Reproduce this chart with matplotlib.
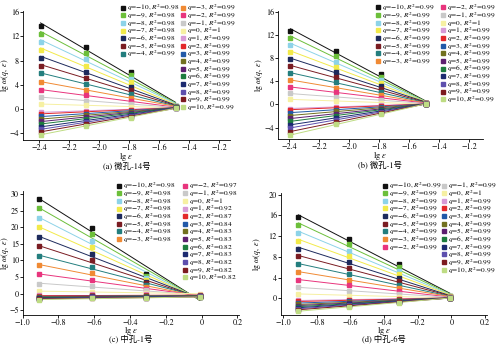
import numpy as np
import matplotlib
matplotlib.use("Agg")
import matplotlib.pyplot as plt
from matplotlib.lines import Line2D
from matplotlib.ticker import FuncFormatter

plt.rcParams['font.family'] = ['STIXGeneral']
plt.rcParams['mathtext.fontset'] = 'stix'
plt.rcParams['axes.unicode_minus'] = True

q_values = list(range(-10, 11))
colors = ['#111111', '#6cbf3a', '#8dd3e8', '#f2ea4a', '#1d2a5c', '#7a1c22',
          '#237e7e', '#f08a34', '#e8357d', '#c9c9c9', '#f6f0a2', '#d79ad6',
          '#e3282b', '#2159a8', '#71701f', '#5d1f70', '#1e7c3e', '#1c2a70',
          '#5d4fad', '#7c1b1f', '#bedc83']

x_micro = [-2.39, -2.09, -1.79, -1.49]
x_meso = [-0.91, -0.61, -0.31, -0.01]

# lg u(q, eps), rows q=-10..10, columns = box sizes
pts_a = [
    [13.7, 10.3, 6.2, 0.5], [12.4, 9.2, 5.6, 0.5], [11.1, 8.2, 5.0, 0.5],
    [9.8, 7.2, 4.4, 0.4], [8.5, 6.2, 3.7, 0.4], [7.2, 5.2, 3.1, 0.4],
    [5.9, 4.2, 2.5, 0.4], [4.5, 3.2, 1.9, 0.4], [3.2, 2.3, 1.3, 0.3],
    [2.0, 1.4, 0.8, 0.3], [0.9, 0.6, 0.3, 0.3], [-0.5, -0.3, -0.1, 0.3],
    [-0.75, -0.45, -0.2, 0.3], [-1.2, -0.75, -0.35, 0.3], [-1.6, -1.05, -0.5, 0.3],
    [-2.0, -1.35, -0.65, 0.3], [-2.4, -1.6, -0.8, 0.3], [-2.9, -1.9, -0.95, 0.25],
    [-3.3, -2.2, -1.1, 0.25], [-3.7, -2.5, -1.25, 0.2], [-4.2, -2.8, -1.4, 0.2]]
pts_b = [
    [12.7, 9.2, 5.2, 0.2], [11.5, 8.3, 4.7, 0.2], [10.3, 7.4, 4.2, 0.2],
    [9.0, 6.5, 3.7, 0.2], [7.8, 5.6, 3.2, 0.2], [6.6, 4.7, 2.7, 0.2],
    [5.4, 3.8, 2.2, 0.2], [4.2, 2.9, 1.7, 0.2], [3.0, 2.1, 1.2, 0.2],
    [1.9, 1.3, 0.7, 0.2], [0.9, 0.6, 0.3, 0.1], [-0.7, -0.4, -0.15, 0.1],
    [-0.9, -0.55, -0.25, 0.1], [-1.4, -0.9, -0.4, 0.1], [-1.9, -1.2, -0.6, 0.1],
    [-2.4, -1.6, -0.8, 0.1], [-2.9, -1.9, -0.95, 0.1], [-3.5, -2.3, -1.15, 0.1],
    [-4.0, -2.7, -1.3, 0.1], [-4.7, -3.0, -1.5, 0.1], [-5.3, -3.4, -1.7, 0.1]]
pts_c = [
    [28.5, 19.9, 5.9, -0.9], [25.7, 18.0, 5.3, -0.9], [22.8, 16.0, 4.7, -0.9],
    [20.0, 14.0, 4.1, -0.8], [17.1, 12.0, 3.6, -0.8], [14.3, 10.0, 3.1, -0.8],
    [11.4, 8.1, 2.6, -0.7], [8.6, 6.1, 2.0, -0.7], [5.8, 4.1, 1.5, -0.6],
    [3.0, 2.2, 1.0, -0.5], [0.8, 0.5, 0.3, 0.0], [-0.4, -0.2, -0.2, -0.4],
    [-0.7, -0.4, -0.4, -0.5], [-0.9, -0.6, -0.6, -0.6], [-1.0, -0.7, -0.7, -0.6],
    [-1.2, -0.8, -0.9, -0.7], [-1.3, -0.9, -1.0, -0.7], [-1.4, -1.0, -1.1, -0.8],
    [-1.5, -1.1, -1.2, -0.8], [-1.6, -1.2, -1.3, -0.9], [-1.8, -1.3, -1.4, -0.9]]
pts_d = [
    [15.6, 11.5, 6.7, 0.4], [14.1, 10.4, 6.0, 0.4], [12.6, 9.2, 5.3, 0.4],
    [11.1, 8.1, 4.6, 0.4], [9.6, 7.0, 3.9, 0.3], [8.1, 5.8, 3.3, 0.3],
    [6.6, 4.7, 2.6, 0.3], [5.1, 3.6, 2.0, 0.3], [3.6, 2.5, 1.4, 0.2],
    [2.1, 1.5, 0.8, 0.2], [0.9, 0.5, 0.3, 0.1], [-0.4, -0.3, -0.1, 0.1],
    [-0.6, -0.4, -0.2, 0.1], [-0.9, -0.6, -0.3, 0.1], [-1.2, -0.75, -0.4, 0.1],
    [-1.4, -0.9, -0.5, 0.1], [-1.6, -1.05, -0.6, 0.1], [-1.8, -1.2, -0.65, 0.1],
    [-2.0, -1.3, -0.75, 0.1], [-2.2, -1.45, -0.8, 0.1], [-2.5, -1.6, -0.9, 0.1]]

r2_a = ["0.98", "0.98", "0.98", "0.98", "0.98", "0.98", "0.99", "0.99", "0.99", "0.99", "1",
        "0.99", "0.99", "0.99", "0.99", "0.99", "0.99", "0.99", "0.99", "0.99", "0.99"]
r2_b = ["0.99"] * 10 + ["1"] + ["0.99"] * 10
r2_c = ["0.98", "0.98", "0.98", "0.98", "0.98", "0.98", "0.98", "0.98", "0.97", "0.98", "1",
        "0.92", "0.87", "0.84", "0.83", "0.83", "0.82", "0.83", "0.82", "0.82", "0.82"]
r2_d = ["0.99"] * 10 + ["1"] + ["0.99"] * 10

captions = ["(a) 微孔-14号", "(b) 微孔-1号", "(c) 中孔-1号", "(d) 中孔-6号"]

W, H = 500, 346


def px_rect(left, right, top, bottom):
    return [left / W, 1 - bottom / H, (right - left) / W, (bottom - top) / H]


def xfmt(v, pos):
    if abs(v) < 1e-9:
        return "0"
    return f"{v:.1f}".replace("-", "\u2212")


def yfmt(v, pos):
    return f"{int(round(v))}".replace("-", "\u2212")


def draw_panel(ax, x, pts, r2, split, xlim, ylim, xticks, yticks, caption, leg_x, leg_y, ylab_x):
    x = np.array(x)
    for q, c, y in zip(q_values, colors, pts):
        k, b = np.polyfit(x, y, 1)
        ax.plot([x[0], x[-1]], [k * x[0] + b, k * x[-1] + b], color=c, lw=0.7, zorder=2)
    for q, c, y in zip(q_values, colors, pts):
        ax.plot(x, y, ls="none", marker="s", ms=3, color=c, zorder=3)
    ax.set_xlim(*xlim)
    ax.set_ylim(*ylim)
    ax.set_xticks(xticks)
    ax.set_yticks(yticks)
    ax.xaxis.set_major_formatter(FuncFormatter(xfmt))
    ax.yaxis.set_major_formatter(FuncFormatter(yfmt))
    for s in ["top", "right"]:
        ax.spines[s].set_visible(False)
    for s in ["left", "bottom"]:
        ax.spines[s].set_linewidth(0.6)
    ax.tick_params(direction="out", length=2, width=0.6, labelsize=5.8, pad=0.8)
    ax.set_ylabel(r"lg $\omega(q,\ \varepsilon)$", fontsize=5.8)
    ax.yaxis.set_label_coords(ylab_x, 0.5)
    ax.text(0.5, -0.13, r"lg $\varepsilon$", transform=ax.transAxes, ha="center", va="center",
            fontsize=6)
    ax.text(0.5, -0.2, caption, transform=ax.transAxes, ha="center", va="center", fontsize=6,
            family=["STIXGeneral", "Noto Sans CJK SC"])

    handles = []
    labels = []
    for q, c, r in zip(q_values, colors, r2):
        handles.append(Line2D([], [], ls="none", marker="s", ms=3, color=c))
        labels.append(f"$q$={q}, $R^2$={r}".replace("-", "\u2212"))
    kw = dict(loc="upper left", frameon=False, fontsize=5.3, borderpad=0, borderaxespad=0,
              handlelength=0.6, handletextpad=0.3, labelspacing=-0.40)
    leg1 = ax.legend(handles[:split], labels[:split], bbox_to_anchor=(leg_x[0], leg_y), **kw)
    ax.add_artist(leg1)
    ax.legend(handles[split:], labels[split:], bbox_to_anchor=(leg_x[1], leg_y), **kw)


fig = plt.figure(figsize=(5, 3.46), dpi=100)

ax_a = fig.add_axes(px_rect(23, 230, 11, 140))
draw_panel(ax_a, x_micro, pts_a, r2_a, 7, (-2.507, -1.127), (-5.1, 16.2),
           np.arange(-2.4, -1.19, 0.2), np.arange(-4, 17, 4), captions[0],
           (0.471, 0.761), 1.064, -0.058)

ax_b = fig.add_axes(px_rect(278, 483, 10.5, 139.3))
draw_panel(ax_b, x_micro, pts_b, r2_b, 8, (-2.473, -1.109), (-6.0, 16.2),
           np.arange(-2.4, -1.19, 0.2), np.arange(-4, 17, 4), captions[1],
           (0.476, 0.793), 1.061, -0.062)

ax_c = fig.add_axes(px_rect(22.7, 239, 191, 314.7))
draw_panel(ax_c, x_meso, pts_c, r2_c, 8, (-0.994, 0.209), (-6.3, 30.9),
           np.arange(-1.0, 0.21, 0.2), np.arange(-5, 31, 5), captions[2],
           (0.434, 0.739), 1.083, -0.055)

ax_d = fig.add_axes(px_rect(280.7, 486.7, 193, 314.7))
draw_panel(ax_d, x_meso, pts_d, r2_d, 9, (-1.015, 0.21), (-3.17, 20.33),
           np.arange(-1.0, 0.21, 0.2), np.arange(0, 21, 4), captions[3],
           (0.494, 0.781), 1.101, -0.086)

fig.savefig("out.png", dpi=100)
